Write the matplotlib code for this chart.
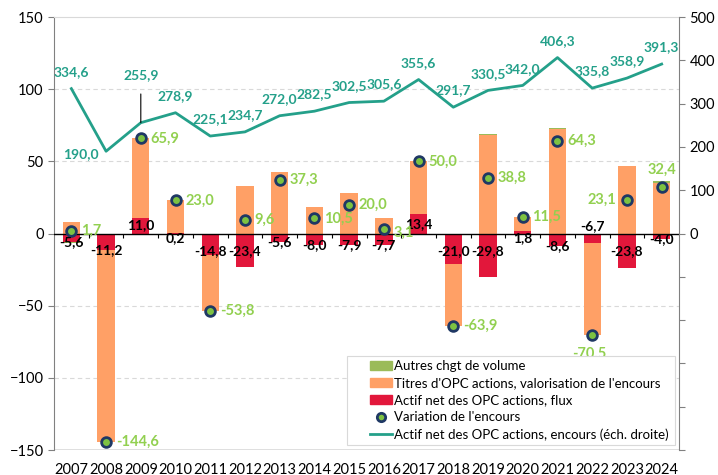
import matplotlib
matplotlib.use("Agg")
import matplotlib.pyplot as plt
import numpy as np
from matplotlib.lines import Line2D
from matplotlib.patches import Patch, Rectangle

# Data (Mds EUR)
years = [str(y) for y in range(2007, 2025)]
flux = [-5.6, -11.2, 11.0, 0.2, -14.8, -23.4, -5.6, -8.0, -7.9, -7.7,
        13.4, -21.0, -29.8, 1.8, -8.6, -6.7, -23.8, -4.0]
valo = [8.3, -133.4, 54.9, 22.8, -39.0, 33.0, 42.9, 18.5, 27.9, 10.8,
        36.6, -42.9, 68.0, 9.7, 72.4, -63.8, 46.5, 35.0]
autres = [-1.0, 0.0, 0.0, 0.0, 0.0, 0.0, 0.0, 0.0, 0.0, 0.0,
          0.0, 0.0, 0.6, 0.0, 0.5, 0.0, 0.4, 1.4]
variation = [1.7, -144.6, 65.9, 23.0, -53.8, 9.6, 37.3, 10.5, 20.0, 3.1,
             50.0, -63.9, 38.8, 11.5, 64.3, -70.5, 23.1, 32.4]
encours = [334.6, 190.0, 255.9, 278.9, 225.1, 234.7, 272.0, 282.5, 302.5, 305.6,
           355.6, 291.7, 330.5, 342.0, 406.3, 335.8, 358.9, 391.3]

# label placement exceptions
var_pos = {"2016": "lowright", "2022": "below", "2023": "left", "2024": "above"}
flux_pos = {"2022": "above"}
enc_pos = {"2008": "left", "2009": "leader"}

c_green = "#9BBB59"
c_orange = "#FFA066"
c_red = "#E2173B"
c_teal = "#24A08A"
c_lab = "#92D050"
c_navy = "#1F3864"

plt.rcParams['font.family'] = ['Lato', 'DejaVu Sans']


def fmt(v):
    return f"{v:.1f}".replace(".", ",")


fig = plt.figure(figsize=(7.18, 4.75), dpi=100)
ax = fig.add_axes([0.0752, 0.0526, 0.8705, 0.9116])
x = np.arange(len(years))

# stacked bars, positives and negatives stacked separately
pos_base = np.zeros(len(years))
neg_base = np.zeros(len(years))
for vals, col in [(flux, c_red), (valo, c_orange), (autres, c_green)]:
    v = np.array(vals)
    bottom = np.where(v >= 0, pos_base, neg_base)
    ax.bar(x, v, 0.5, bottom=bottom, color=col, zorder=2)
    pos_base += np.where(v >= 0, v, 0)
    neg_base += np.where(v < 0, v, 0)

ax.plot(x, variation, 'o', ms=7, mfc="#7DC242", mec=c_navy, mew=2, zorder=4)

ax.set_xlim(-0.5, len(years) - 0.5)
ax.set_ylim(-150, 150)
ax.set_yticks(range(-150, 151, 50))
for g in [-100, -50, 50, 100]:
    ax.axhline(g, color="#D9D9D9", lw=0.8, ls=(0, (4, 3)), zorder=0)
ax.axhline(-150, color="#D9D9D9", lw=1.2, zorder=0)
ax.axhline(0, color="black", lw=1, zorder=3)
ax.vlines(x[:-1] + 0.5, -2.8, 0, color="black", lw=0.8, zorder=3)

ax.set_xticks(x)
ax.set_xticklabels(years, fontsize=10.5)
ax.tick_params(axis='x', length=0, pad=9)
ax.tick_params(axis='y', labelsize=10.5, color="#808080", length=4)
for s in ['bottom', 'right']:
    ax.spines[s].set_visible(False)
ax.spines['top'].set_color("#D9D9D9")
ax.spines['left'].set_color("#808080")

# flux labels
for i, v in enumerate(flux):
    p = flux_pos.get(years[i])
    if p == "above":
        y, va = 0.8, 'bottom'
    elif v < 0:
        y, va = max(v, -12), 'center'
    elif v < 3:
        y, va = -3.5, 'center'
    else:
        y, va = v / 2, 'center'
    ax.text(i, y, fmt(v), ha='center', va=va, fontsize=10, fontweight='bold',
            color="black", zorder=5)

# variation labels
offsets = {"right": (7, 0, 'left'), "lowright": (7, -3, 'left'), "left": (-8, 0, 'right'),
           "below": (-2, -13, 'center'), "above": (0, 12, 'center')}
for i, v in enumerate(variation):
    dx, dy, ha = offsets[var_pos.get(years[i], "right")]
    ax.annotate(fmt(v), (i, v), xytext=(dx, dy), textcoords='offset points',
                ha=ha, va='center', color=c_lab, fontsize=10.5, fontweight='bold', zorder=5)

# right axis: encours
ax2 = ax.twinx()
ax2.plot(x, encours, color=c_teal, lw=2, zorder=3)
ax2.set_ylim(-500, 500)
ax2.set_yticks(range(-500, 501, 100))
ax2.set_yticklabels([str(t) if t >= 0 else "" for t in range(-500, 501, 100)])
ax2.tick_params(axis='y', labelsize=10.5, color="#808080", length=4)
for s in ['top', 'left', 'bottom']:
    ax2.spines[s].set_visible(False)
ax2.spines['right'].set_color("#808080")

for i, v in enumerate(encours):
    p = enc_pos.get(years[i], "above")
    if p == "left":
        ax2.annotate(fmt(v), (i, v), xytext=(-5, -2), textcoords='offset points',
                     ha='right', va='center', color=c_teal, fontsize=10, fontweight='bold')
    elif p == "leader":
        ax2.annotate(fmt(v), (i, v), xytext=(0, 34), textcoords='offset points',
                     ha='center', va='center', color=c_teal, fontsize=10, fontweight='bold',
                     arrowprops=dict(arrowstyle='-', color='black', lw=0.8, shrinkA=7, shrinkB=0))
    else:
        ax2.annotate(fmt(v), (i, v), xytext=(0, 12), textcoords='offset points',
                     ha='center', va='center', color=c_teal, fontsize=10, fontweight='bold')

handles = [
    Patch(color=c_green, label="Autres chgt de volume"),
    Patch(color=c_orange, label="Titres d'OPC actions, valorisation de l'encours"),
    Patch(color=c_red, label="Actif net des OPC actions, flux"),
    Line2D([], [], ls='', marker='o', ms=6, mfc="#7DC242", mec=c_navy, mew=2,
           label="Variation de l'encours"),
    Line2D([], [], color=c_teal, lw=2, label="Actif net des OPC actions, encours (éch. droite)"),
]
# legend box drawn separately (wider than its content, as in the original)
ax2.add_patch(Rectangle((0.4833, 0.0632), 0.4568, 0.1874, transform=fig.transFigure,
                        facecolor="white", edgecolor="#D9D9D9", lw=0.8, zorder=9,
                        clip_on=False))
leg = ax2.legend(handles=handles, loc='lower left', bbox_to_anchor=(0.515, 0.072),
                 bbox_transform=fig.transFigure, fontsize=9.5, frameon=False,
                 labelspacing=0.38, handlelength=1.7, handletextpad=0.1,
                 borderpad=0, borderaxespad=0)
leg.set_zorder(10)

fig.savefig("out.png", dpi=100)
